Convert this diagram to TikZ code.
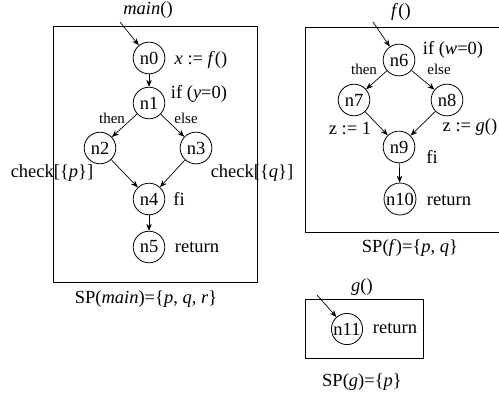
\documentclass[tikz,border=0pt]{standalone}
\usepackage{fontspec}
\setmainfont{Liberation Serif}
\usetikzlibrary{arrows.meta}
\begin{document}
\begin{tikzpicture}[x=1pt,y=-1pt,
  every node/.style={font=\fontsize{18.5}{22}\selectfont},
  cfg/.style={draw,circle,inner sep=3.4pt,line width=0.8pt},
  lbl/.style={inner sep=0pt},
  small/.style={inner sep=0pt,font=\fontsize{15}{18}\selectfont},
  frame/.style={draw,line width=0.8pt},
  arr/.style={-{Stealth[length=7pt,width=5.5pt]},line width=0.7pt}]
\useasboundingbox (0,0) rectangle (499,394);
% main
\draw[frame] (53,26) rectangle (257,282);
\node[lbl] (tmain) at (148,10) {\textit{main}()};
\coordinate (emain) at (120,22);
\node[cfg] (n0) at (149,58) {n0};
\node[cfg] (n1) at (149,103) {n1};
\node[cfg] (n2) at (100,148) {n2};
\node[cfg] (n3) at (196,148) {n3};
\node[cfg] (n4) at (149,199) {n4};
\node[cfg] (n5) at (149,247) {n5};
\node[lbl] (l0) at (201,60) {\textit{x} := \textit{f}()};
\node[lbl] (l1) at (199,94) {if (\textit{y}=0)};
\node[small] (th1) at (112,118) {then};
\node[small] (el1) at (186,118) {else};
\node[lbl] (cp) at (52,173) {check[\{\textit{p}\}]};
\node[lbl] (cq) at (252,173) {check[\{\textit{q}\}]};
\node[lbl] (l4) at (179,199) {fi};
\node[lbl] (l5) at (197,247) {return};
\node[lbl] (spm) at (146,299) {SP(\textit{main})=\{\textit{p}, \textit{q}, \textit{r}\}};
\draw[arr] (emain) -- (n0);
\draw[arr] (n0) -- (n1);
\draw[arr] (n1) -- (n2);
\draw[arr] (n1) -- (n3);
\draw[arr] (n2) -- (n4);
\draw[arr] (n3) -- (n4);
\draw[arr] (n4) -- (n5);
% f
\draw[frame] (499,27) -- (305,27) -- (305,232) -- (499,232);
\node[lbl] (tf) at (401,12) {\textit{f}()};
\coordinate (ef) at (373,22);
\node[cfg] (n6) at (399,60) {n6};
\node[cfg] (n7) at (354,100) {n7};
\node[cfg] (n8) at (447,100) {n8};
\node[cfg] (n9) at (399,147) {n9};
\node[cfg,inner sep=0.6pt] (n10) at (400,199) {n10};
\node[lbl] (l6) at (453,50) {if (\textit{w}=0)};
\node[small] (th6) at (364,69) {then};
\node[small] (el6) at (439,69) {else};
\node[lbl] (l7) at (350,129) {z := 1};
\node[lbl] (l8) at (470,127) {z := \textit{g}()};
\node[lbl] (l9) at (432,157) {fi};
\node[lbl] (l10) at (449,200) {return};
\node[lbl] (spf) at (410,248) {SP(\textit{f})=\{\textit{p}, \textit{q}\}};
\draw[arr] (ef) -- (n6);
\draw[arr] (n6) -- (n7);
\draw[arr] (n6) -- (n8);
\draw[arr] (n7) -- (n9);
\draw[arr] (n8) -- (n9);
\draw[arr] (n9) -- (n10);
% g
\draw[frame] (305,299) rectangle (423,358);
\node[lbl] (tg) at (362,287) {\textit{g}()};
\coordinate (eg) at (317,295);
\node[cfg,inner sep=0.6pt] (n11) at (347,329) {n11};
\node[lbl] (l11) at (395,328) {return};
\node[lbl] (spg) at (362,382) {SP(\textit{g})=\{\textit{p}\}};
\draw[arr] (eg) -- (n11);
\end{tikzpicture}
\end{document}
